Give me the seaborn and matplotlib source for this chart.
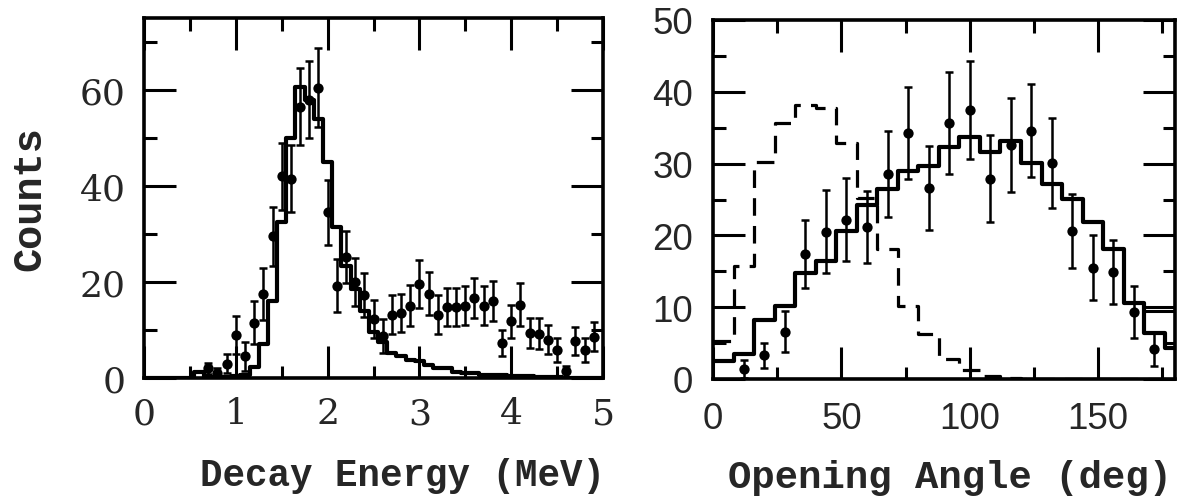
import numpy as np
import pandas as pd
import matplotlib
matplotlib.use("Agg")
import matplotlib.pyplot as plt
import seaborn as sns
from matplotlib.ticker import MultipleLocator

# ---------------- Left panel: decay energy ----------------
energy_bin_edges = [round(-0.05 + 0.1 * i, 3) for i in range(52)]
energy_bin_centers = [round(0.1 * i, 3) for i in range(51)]
energy_model = [
    0, 0, 0, 0, 0, 0, 1.2, 0.2, 0.2, 0.3,          # 0.0 - 0.9
    0.4, 0.7, 2.3, 7.0, 16.0, 32.5, 50.0, 60.6, 58.0, 54.0,   # 1.0 - 1.9
    45.0, 31.5, 23.4, 18.6, 13.9, 9.5, 7.4, 5.2, 4.5, 3.8,    # 2.0 - 2.9
    3.5, 2.8, 2.1, 2.0, 1.2, 1.1, 1.0, 0.7, 0.6, 0.6,         # 3.0 - 3.9
    0.5, 0.4, 0.4, 0.3, 0.3, 0.2, 0, 0, 0, 0, 0,              # 4.0 - 5.0
]
energy_pts = [0.7, 0.8, 0.9, 1.0, 1.1, 1.2, 1.3, 1.4, 1.5, 1.6,
              1.7, 1.8, 1.9, 2.0, 2.1, 2.2, 2.3, 2.4, 2.5, 2.6,
              2.7, 2.8, 2.9, 3.0, 3.1, 3.2, 3.3, 3.4, 3.5, 3.6,
              3.7, 3.8, 3.9, 4.0, 4.1, 4.2, 4.3, 4.4, 4.5, 4.6,
              4.7, 4.8, 4.9]
energy_counts = [2.0, 1.0, 3.0, 9.0, 4.5, 11.5, 17.5, 29.5, 42.0, 41.5,
                 56.5, 58.0, 60.5, 34.5, 19.2, 25.2, 20.0, 17.3, 12.3, 8.7,
                 13.2, 13.6, 15.1, 19.5, 17.6, 13.2, 14.8, 14.8, 15.1, 16.6,
                 15.1, 16.1, 7.3, 11.8, 15.3, 9.4, 9.2, 8.0, 5.9, 1.4,
                 7.7, 5.8, 8.6]
energy_err = [1.2, 1.0, 2.0, 4.0, 3.0, 4.5, 5.5, 6.2, 7.0, 7.0,
              8.0, 8.0, 8.3, 6.7, 5.5, 5.5, 5.0, 4.5, 4.0, 3.5,
              4.0, 4.0, 4.2, 5.0, 4.5, 4.0, 4.0, 4.0, 4.0, 4.2,
              4.0, 4.2, 2.8, 3.5, 4.4, 3.2, 3.2, 3.0, 2.5, 1.2,
              3.0, 2.5, 3.0]
energy_ticks = [0, 1, 2, 3, 4, 5]
counts_ticks_left = [0, 20, 40, 60]

# ---------------- Right panel: opening angle ----------------
angle_bin_edges = [8 * i for i in range(24)]
angle_bin_centers = [4 + 8 * i for i in range(23)]
angle_model = [2.5, 3.5, 8.2, 10.2, 14.8, 16.4, 20.6, 24.3, 26.4, 28.9,
               29.6, 32.3, 33.7, 31.6, 33.1, 30.1, 27.1, 25.1, 21.9, 18.1,
               10.6, 6.4, 4.3]
angle_model_dashed = [5.3, 15.7, 30.2, 35.6, 38.2, 37.8, 32.9, 25.2, 18.1, 10.2,
                      6.2, 2.8, 1.2, 0.4, 0.2, 0, 0, 0, 0, 0,
                      0, 0, 0]
angle_extra_edges = [168, 176, 184]
angle_extra_centers = [172, 180]
angle_extra = [9.5, 9.5]
angle_pts = [12, 20, 28, 36, 44, 52, 60, 68, 76, 84,
             92, 100, 108, 116, 124, 132, 140, 148, 156, 164, 172]
angle_counts = [1.4, 3.3, 6.6, 17.4, 20.5, 22.2, 21.2, 28.5, 34.3, 26.6,
                35.7, 37.5, 27.9, 32.6, 34.6, 30.1, 20.6, 15.5, 14.9, 9.3, 4.2]
angle_err = [1.3, 1.7, 2.9, 4.7, 5.8, 5.8, 5.0, 6.0, 6.4, 5.8,
             7.1, 6.8, 6.1, 6.5, 6.5, 6.3, 5.2, 4.5, 4.5, 3.6, 2.4]
angle_ticks = [0, 50, 100, 150]
counts_ticks_right = [0, 10, 20, 30, 40, 50]

# ---------------- Figure ----------------
sns.set_style("ticks")
plt.rcParams["font.family"] = ["DejaVu Serif", "DejaVu Sans"]

fig = plt.figure(figsize=(11.78, 5.02), dpi=100)
W, H = 1178, 502
axL = fig.add_axes([144 / W, 1 - 379 / H, 459 / W, 360 / H])
axR = fig.add_axes([713 / W, 1 - 380 / H, 462 / W, 359 / H])

LW_HIST = 3.0
for ax in (axL, axR):
    for sp in ax.spines.values():
        sp.set_linewidth(2.6)
        sp.set_color("black")
    ax.set_facecolor("white")

df_energy = pd.DataFrame({"E": energy_bin_centers, "w": energy_model})
df_angle = pd.DataFrame({"A": angle_bin_centers, "w": angle_model,
                         "wd": angle_model_dashed})
df_extra = pd.DataFrame({"A": angle_extra_centers, "w": angle_extra})

# Left histogram and data
sns.histplot(data=df_energy, x="E", weights="w", bins=energy_bin_edges,
             element="step", fill=False, color="black", linewidth=LW_HIST, ax=axL)
axL.errorbar(energy_pts, energy_counts, yerr=energy_err, fmt="none",
             ecolor="black", elinewidth=1.8, capsize=3.2, capthick=1.8, zorder=3)
sns.scatterplot(x=energy_pts, y=energy_counts, color="black", s=55,
                linewidth=0, ax=axL, zorder=4)

# Right histograms and data
sns.histplot(data=df_angle, x="A", weights="w", bins=angle_bin_edges,
             element="step", fill=False, color="black", linewidth=LW_HIST, ax=axR)
sns.histplot(data=df_angle, x="A", weights="wd", bins=angle_bin_edges,
             element="step", fill=False, color="black", linewidth=2.3,
             linestyle=(0, (5.5, 3.2)), ax=axR)
sns.histplot(data=df_extra, x="A", weights="w", bins=angle_extra_edges,
             element="step", fill=False, color="black", linewidth=2.2, ax=axR)
axR.errorbar(angle_pts, angle_counts, yerr=angle_err, fmt="none",
             ecolor="black", elinewidth=1.8, capsize=3.2, capthick=1.8, zorder=3)
sns.scatterplot(x=angle_pts, y=angle_counts, color="black", s=55,
                linewidth=0, ax=axR, zorder=4)

# Axes limits, ticks
axL.set_xlim(0, 5)
axL.set_ylim(0, 75)
axR.set_xlim(0, 180)
axR.set_ylim(0, 50)

axL.xaxis.set_minor_locator(MultipleLocator(0.5))
axL.yaxis.set_minor_locator(MultipleLocator(10))
axR.xaxis.set_minor_locator(MultipleLocator(25))
axR.yaxis.set_minor_locator(MultipleLocator(5))

axL.set_xticks(energy_ticks)
axL.set_xticklabels([str(t) for t in energy_ticks], fontfamily="DejaVu Serif", fontsize=26)
axL.set_yticks(counts_ticks_left)
axL.set_yticklabels([str(t) for t in counts_ticks_left], fontfamily="DejaVu Serif", fontsize=26)
axR.set_xticks(angle_ticks)
axR.set_xticklabels([str(t) for t in angle_ticks], fontfamily="Liberation Sans", fontsize=26.5)
axR.set_yticks(counts_ticks_right)
axR.set_yticklabels([str(t) for t in counts_ticks_right], fontfamily="Liberation Sans", fontsize=26.5)

for ax, pad in ((axL, 13), (axR, 14.5)):
    ax.tick_params(which="both", direction="in", top=True, right=True,
                   width=2.2, color="black")
    ax.tick_params(which="major", length=23, pad=pad)
    ax.tick_params(which="minor", length=9)
axR.tick_params(axis="x", which="major", pad=16)

# Labels
lblL = axL.set_xlabel("Decay Energy (MeV)", fontfamily="Liberation Mono",
                      fontweight="bold", fontsize=27)
axL.xaxis.set_label_coords(0.564, -0.297)
lblL.set_va("baseline")

lblR = axR.set_xlabel("Opening Angle (deg)", fontfamily="Liberation Mono",
                      fontweight="bold", fontsize=28)
axR.xaxis.set_label_coords(0.513, -0.301)
lblR.set_va("baseline")
axR.set_ylabel("")

lblY = axL.set_ylabel("Counts", fontfamily="Liberation Mono",
                      fontweight="bold", fontsize=29)
axL.yaxis.set_label_coords(-0.225, 0.5)
lblY.set_va("baseline")

fig.savefig("out.png", dpi=100, facecolor="white")
